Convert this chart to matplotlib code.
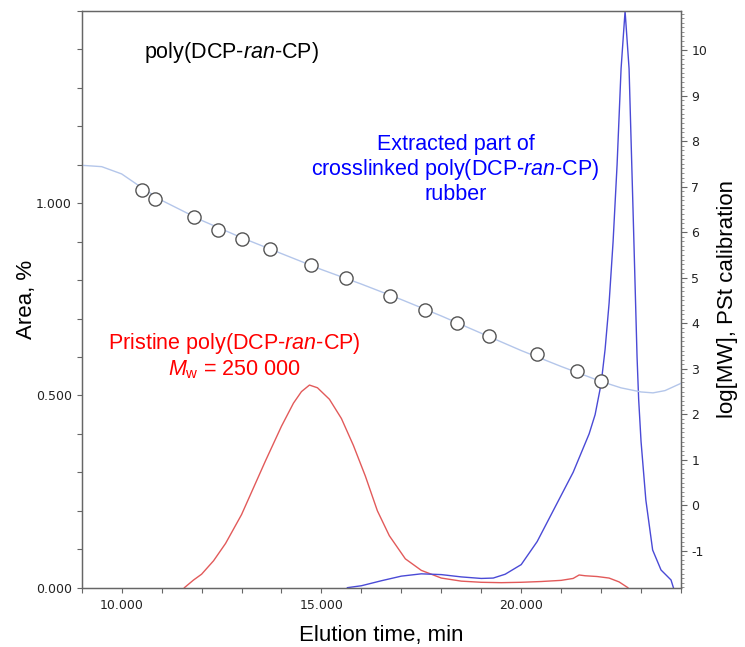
import numpy as np
import matplotlib.pyplot as plt
from matplotlib.ticker import MultipleLocator, FixedLocator, FuncFormatter

# elution time (min) vs area (%), pristine polymer
red_t = [11.57, 11.8, 12.0, 12.3, 12.6, 13.0, 13.3, 13.6, 14.0, 14.3, 14.5, 14.7,
         14.9, 15.2, 15.5, 15.8, 16.1, 16.4, 16.7, 17.1, 17.5, 18.0, 18.5, 19.0,
         19.5, 20.0, 20.5, 21.0, 21.3, 21.45, 21.6, 21.9, 22.2, 22.45, 22.67]
red_area = [0.0, 0.02, 0.035, 0.07, 0.115, 0.19, 0.26, 0.33, 0.42, 0.48, 0.51, 0.527,
            0.52, 0.49, 0.44, 0.37, 0.29, 0.2, 0.135, 0.075, 0.045, 0.025, 0.017, 0.014,
            0.013, 0.014, 0.016, 0.019, 0.024, 0.033, 0.031, 0.029, 0.025, 0.015, 0.0]

# extracted part of the crosslinked rubber
blue_t = [15.65, 16.0, 16.5, 17.0, 17.5, 18.0, 18.5, 19.0, 19.3, 19.6, 20.0, 20.4,
          20.7, 21.0, 21.3, 21.54, 21.7, 21.85, 22.0, 22.1, 22.2, 22.3, 22.4, 22.5, 22.6,
          22.7, 22.8, 22.9, 22.94, 23.0, 23.12, 23.29, 23.5, 23.75, 23.81]
blue_area = [0.0, 0.005, 0.018, 0.03, 0.036, 0.034, 0.028, 0.024, 0.025, 0.035, 0.06, 0.12,
             0.18, 0.24, 0.3, 0.36, 0.40, 0.45, 0.53, 0.62, 0.74, 0.9, 1.1, 1.35, 1.5,
             1.35, 0.98, 0.6, 0.49, 0.38, 0.228, 0.098, 0.046, 0.02, 0.0]

# PSt calibration curve, log[MW]
cal_t = [9.0, 9.5, 10.0, 10.5, 11.0, 12.0, 13.0, 14.0, 15.0, 16.0, 17.0, 18.0,
         19.0, 20.0, 21.0, 22.0, 22.5, 23.0, 23.3, 23.6, 24.0]
cal_logmw = [7.47, 7.44, 7.28, 6.98, 6.70, 6.26, 5.88, 5.53, 5.18, 4.86, 4.52, 4.16,
             3.78, 3.40, 3.05, 2.72, 2.58, 2.49, 2.47, 2.52, 2.68]

# calibration standards
std_t = [10.51, 10.84, 11.82, 12.41, 13.02, 13.72, 14.75, 15.62, 16.71,
         17.6, 18.4, 19.2, 20.4, 21.4, 22.0]
std_logmw = [6.92, 6.74, 6.34, 6.04, 5.85, 5.63, 5.28, 5.00, 4.60,
             4.28, 4.00, 3.72, 3.32, 2.95, 2.74]

spine_col = '#666666'
plt.rcParams['font.family'] = ['Liberation Sans', 'DejaVu Sans']
plt.rcParams['mathtext.fontset'] = 'custom'
plt.rcParams['mathtext.rm'] = 'Liberation Sans'
plt.rcParams['mathtext.it'] = 'Liberation Sans:italic'

fig = plt.figure(figsize=(7.45, 6.47), dpi=100)
ax = fig.add_axes([0.1097, 0.0917, 0.8044, 0.8913])
ax2 = ax.twinx()

ax2.plot(cal_t, cal_logmw, color='#b4c6ea', lw=1.0, zorder=1)
ax2.plot(std_t, std_logmw, linestyle='None', marker='o', markersize=9.5,
         markerfacecolor='white', markeredgecolor='#555555', markeredgewidth=1.0, zorder=3)

ax.plot(red_t, red_area, color='#e25a5a', lw=1.0)
ax.plot(blue_t, blue_area, color='#4a4ad6', lw=1.0)

ax.set_xlim(9.0, 24.0)
ax.set_ylim(0, 1.5)
ax2.set_ylim(-1.81, 10.86)

ax.xaxis.set_major_locator(MultipleLocator(5))
ax.xaxis.set_minor_locator(MultipleLocator(1))
ax.xaxis.set_major_formatter(FuncFormatter(lambda v, p: '%.3f' % v))
ax.yaxis.set_major_locator(FixedLocator([0, 0.5, 1.0]))
ax.yaxis.set_minor_locator(MultipleLocator(0.1))
ax.yaxis.set_major_formatter(FuncFormatter(lambda v, p: '%.3f' % v))
ax2.yaxis.set_major_locator(MultipleLocator(1))
ax2.yaxis.set_minor_locator(MultipleLocator(0.1))
ax2.yaxis.set_major_formatter(FuncFormatter(lambda v, p: '%d' % round(v)))

for a in (ax, ax2):
    for s in a.spines.values():
        s.set_color(spine_col)
        s.set_linewidth(0.9)
    a.tick_params(which='both', direction='out', color=spine_col, width=0.8,
                  labelcolor='#222222')
ax.tick_params(which='both', length=3.5, top=False)
ax.tick_params(axis='x', pad=5)
ax2.tick_params(which='major', length=4)
ax2.tick_params(which='minor', length=2, width=0.5)
for lbl in ax.get_xticklabels() + ax.get_yticklabels() + ax2.get_yticklabels():
    lbl.set_fontfamily('DejaVu Sans')
    lbl.set_fontsize(9)

ax.set_xlabel('Elution time, min', fontsize=16, labelpad=9)
ax.set_ylabel('Area, %', fontsize=16, labelpad=-1)
ax2.set_ylabel('log[MW], PSt calibration', fontsize=16, labelpad=7)

ax.text(12.75, 1.392, 'poly(DCP-$\\mathit{ran}$-CP)', fontsize=15.5, color='black',
        ha='center', va='center')
ax.text(18.36, 1.088, 'Extracted part of\ncrosslinked poly(DCP-$\\mathit{ran}$-CP)\nrubber',
        fontsize=15.5, color='#0000ff', ha='center', va='center', linespacing=1.12)
ax.text(12.83, 0.603, 'Pristine poly(DCP-$\\mathit{ran}$-CP)\n$\\mathit{M}_\\mathrm{w}$ = 250 000',
        fontsize=15.5, color='#ff0000', ha='center', va='center', linespacing=1.15)

fig.savefig('out.png', dpi=100)
